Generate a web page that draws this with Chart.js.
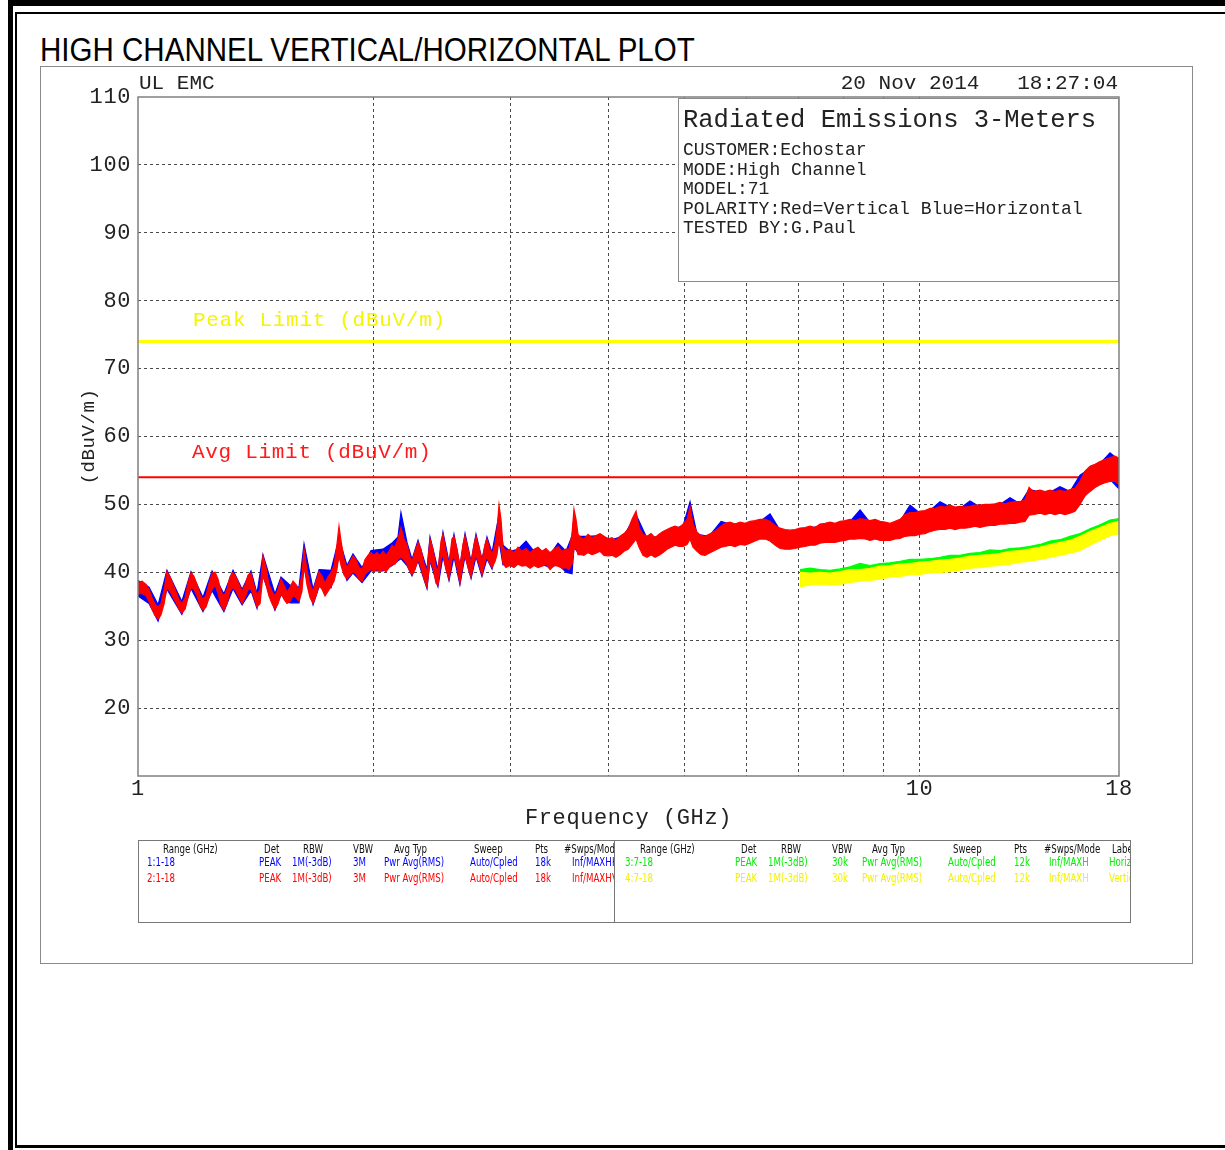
<!DOCTYPE html>
<html>
<head>
<meta charset="utf-8">
<script src="https://cdn.jsdelivr.net/npm/chart.js@4.4.1/dist/chart.umd.min.js"></script>
<style>
html,body{margin:0;padding:0;background:#fff;}
#page{position:relative;width:1225px;height:1150px;overflow:hidden;background:#fff;}
.abs{position:absolute;}
.blk{position:absolute;background:#000;}
.pl{position:absolute;font-family:"Liberation Mono","DejaVu Sans Mono",monospace;color:#222;white-space:pre;line-height:1;}
.tb{position:absolute;font-family:"Liberation Sans Narrow","DejaVu Sans Condensed",sans-serif;font-size:12px;line-height:1;white-space:pre;transform:scaleX(0.8);transform-origin:0 0;}
.clip{position:absolute;overflow:hidden;}
</style>
</head>
<body>
<div id="page">
  <!-- page border -->
  <div class="blk" style="left:8px;top:0;width:1217px;height:6px"></div>
  <div class="blk" style="left:8px;top:0;width:5px;height:1150px"></div>
  <div class="blk" style="left:15px;top:12px;width:1210px;height:2px"></div>
  <div class="blk" style="left:15px;top:12px;width:2px;height:1136px"></div>
  <div class="blk" style="left:15px;top:1145px;width:1210px;height:3px"></div>
  <!-- plot frame -->
  <div class="abs" style="left:40px;top:66px;width:1151px;height:896px;border:1px solid #8a8a8a;"></div>
  <div class="abs" style="left:40px;top:33px;font-family:'Liberation Sans',Arial,sans-serif;font-size:33px;line-height:1;color:#000;white-space:pre;transform:scaleX(0.895);transform-origin:0 0;">HIGH CHANNEL VERTICAL/HORIZONTAL PLOT</div>

  <canvas id="c" width="1225" height="1150" class="abs" style="left:0;top:0;width:1225px;height:1150px;"></canvas>

  <div class="pl" style="left:139px;top:73px;font-size:21px;">UL EMC</div>
  <div class="pl" style="right:107px;top:73px;font-size:21px;">20 Nov 2014   18:27:04</div>
  <div class="pl" style="left:193px;top:310px;font-size:21px;letter-spacing:0.7px;color:#f5f500;">Peak Limit (dBuV/m)</div>
  <div class="pl" style="left:192px;top:442px;font-size:21px;letter-spacing:0.7px;color:#ff1a1a;">Avg Limit (dBuV/m)</div>

  <!-- info box -->
  <div class="abs" style="left:678px;top:98px;width:441px;height:184px;box-sizing:border-box;border:1px solid #8a8a8a;background:#fff;"></div>
  <div class="pl" style="left:683px;top:107.5px;font-size:25.5px;">Radiated Emissions 3-Meters</div>
  <div class="pl" style="left:683px;top:141px;font-size:18px;">CUSTOMER:Echostar</div>
  <div class="pl" style="left:683px;top:161px;font-size:18px;">MODE:High Channel</div>
  <div class="pl" style="left:683px;top:180px;font-size:18px;">MODEL:71</div>
  <div class="pl" style="left:683px;top:200px;font-size:18px;">POLARITY:Red=Vertical Blue=Horizontal</div>
  <div class="pl" style="left:683px;top:219px;font-size:18px;">TESTED BY:G.Paul</div>

  <!-- settings table -->
  <div class="abs" style="left:138px;top:840px;width:993px;height:83px;box-sizing:border-box;border:1px solid #777;"></div>
  <div class="abs" style="left:614px;top:840px;width:1px;height:83px;background:#777;"></div>
  <div class="clip" id="tL" style="left:139px;top:841px;width:475px;height:81px;"></div>
  <div class="clip" id="tR" style="left:615px;top:841px;width:515px;height:81px;"></div>
</div>

<script>
// ---------------- data ----------------
const yTicks = [10, 20, 30, 40, 50, 60, 70, 80, 90, 100, 110];
const yTickLabels = ['', '20', '30', '40', '50', '60', '70', '80', '90', '100', '110'];
const xTicks = [1, 2, 3, 4, 5, 6, 7, 8, 9, 10, 18];
const xTickLabels = ['1', '', '', '', '', '', '', '', '', '10', '18'];

const limitFreq = [1, 18];
const peakLimit = [74, 74];
const avgLimit = [54, 54];

// Trace 2 (red, vertical, peak) envelope
const redFreq = [
  1.000,1.012,1.024,1.033,1.042,1.051,1.061,1.070,1.080,1.089,1.099,1.109,1.118,1.128,1.138,1.149,1.159,1.169,1.179,1.190,
  1.200,1.211,1.222,1.233,1.244,1.255,1.266,1.277,1.288,1.300,1.311,1.323,1.335,1.347,1.359,1.371,1.383,1.395,1.407,1.420,
  1.433,1.445,1.458,1.471,1.484,1.497,1.511,1.524,1.538,1.551,1.565,1.579,1.593,1.607,1.621,
  1.631,1.645,1.660,1.675,1.690,1.705,1.720,1.735,1.750,1.766,1.782,1.797,1.808,1.819,1.835,1.851,1.868,1.884,1.901,1.918,
  1.935,1.952,1.969,1.987,2.004,
  2.022,2.040,2.058,2.077,2.095,2.114,2.132,2.151,2.170,2.190,2.209,2.229,2.242,2.262,2.282,2.302,2.323,2.343,2.364,2.385,
  2.406,2.420,2.442,2.456,2.478,2.500,2.522,2.537,2.560,2.582,2.605,2.621,2.644,2.668,2.691,2.707,2.731,2.755,2.780,2.796,
  2.821,2.838,2.863,2.880,2.897,2.914,2.931,2.957,
  2.992,3.028,3.064,3.100,3.137,3.174,3.212,3.250,3.288,3.327,3.367,3.407,3.447,3.488,3.529,3.560,3.592,3.613,3.635,3.656,
  3.689,3.721,
  3.766,3.810,3.855,3.901,3.947,3.994,4.041,4.089,4.138,4.187,4.237,4.287,4.338,4.376,4.428,4.480,4.534,4.587,4.642,4.697,
  4.752,4.809,4.866,4.923,4.982,5.041,5.086,5.131,5.192,5.254,5.316,5.379,5.443,5.507,5.573,5.639,5.722,5.807,5.894,5.981,
  6.069,6.159,6.251,6.344,6.438,6.533,6.630,6.729,6.828,6.930,7.033,7.137,7.243,7.351,7.460,7.571,7.683,7.797,7.913,8.031,
  8.150,8.271,8.394,8.518,8.645,8.773,8.903,9.035,9.169,9.305,9.443,9.583,9.725,9.869,10.015,10.163,10.314,10.467,10.623,10.780,
  10.940,11.103,11.267,11.435,11.604,11.777,11.951,12.129,12.309,12.491,12.677,12.865,13.056,13.250,13.446,13.646,13.808,13.971,14.262,14.474,
  14.689,14.907,15.128,15.353,15.580,15.812,16.047,16.285,16.526,16.772,17.021,17.273,17.530,17.790,18.000
];
const redHi = [
  38.5,38.7,38.2,37.5,36.3,35.3,34.9,35.4,37.5,40.1,39.3,38.2,37.2,36.0,35.4,36.3,38.5,39.9,39.4,38.2,
  36.8,36.0,36.6,38.4,39.9,40.0,39.0,37.2,36.5,37.5,39.3,40.0,39.3,38.2,37.2,38.2,39.6,39.9,38.2,36.6,
  37.5,42.4,40.7,38.2,37.2,36.5,37.5,39.0,38.1,37.1,37.8,38.7,38.2,37.5,39.7,
  43.4,40.4,38.2,37.2,38.7,40.1,39.4,38.4,39.3,40.0,41.0,44.1,46.8,44.6,41.9,40.7,41.6,42.4,41.9,40.7,
  40.4,41.9,42.5,42.9,42.5,
  42.9,42.5,43.1,42.5,43.1,44.0,43.7,44.9,46.6,44.9,44.1,42.2,41.6,43.1,44.4,43.4,41.2,40.1,44.9,43.4,
  40.7,40.1,44.6,45.6,43.1,41.2,44.9,45.3,43.4,40.7,44.1,45.4,43.4,41.3,44.1,45.3,43.7,41.6,44.1,44.9,
  43.4,42.6,44.1,46.3,49.9,47.8,43.7,43.1,
  43.4,42.9,43.7,43.1,43.5,42.9,43.4,43.7,43.1,43.5,42.9,43.4,43.8,43.1,43.4,43.4,45.6,49.3,47.8,45.6,
  45.1,44.9,
  45.6,45.1,45.4,45.7,45.3,44.9,45.1,44.7,45.3,45.7,46.3,47.8,49.0,46.6,45.6,45.3,45.7,45.1,45.6,46.0,
  46.3,46.6,46.8,46.6,47.1,47.8,49.7,47.1,45.9,45.4,45.3,45.6,45.9,46.3,46.8,47.2,47.4,47.1,47.4,47.2,
  47.5,47.6,47.8,47.8,47.5,46.9,46.5,46.3,46.2,46.3,46.5,46.6,46.8,46.6,47.1,47.2,47.4,47.2,47.5,47.6,
  47.8,47.6,47.9,47.8,47.6,47.8,47.5,47.4,47.2,47.5,47.8,48.5,48.8,48.8,49.0,49.1,49.4,49.4,49.7,49.6,
  49.9,49.6,49.7,49.6,49.7,49.9,49.9,50.0,50.0,50.1,50.3,50.1,50.3,50.4,50.4,50.7,52.5,51.9,52.1,51.9,
  52.1,51.9,52.1,51.9,52.2,52.4,53.4,54.9,55.6,55.9,56.3,56.6,56.9,57.1,56.8
];
const redLo = [
  36.8,36.9,36.5,35.7,34.6,33.7,33.1,33.7,35.4,37.8,37.2,36.3,35.6,34.6,34.0,34.6,36.3,37.8,37.5,36.5,
  35.1,34.4,34.9,36.3,37.5,38.1,36.9,35.1,34.4,35.4,37.2,37.8,37.2,36.3,35.4,36.3,37.5,37.5,36.3,34.9,
  35.4,39.7,38.2,36.5,35.4,34.6,35.4,36.9,36.0,35.4,35.7,36.6,36.3,35.7,37.2,
  41.0,38.2,36.3,35.4,36.6,38.1,37.5,36.5,37.2,37.9,38.7,40.4,42.6,41.0,39.6,39.0,39.6,40.1,39.7,39.0,
  38.7,39.7,40.1,40.4,40.1,
  40.4,40.1,40.4,40.1,40.7,41.2,41.2,41.9,42.2,41.9,41.2,40.1,39.7,40.4,41.9,40.7,39.0,37.8,41.9,40.7,
  38.4,38.1,41.9,42.6,40.4,39.0,41.9,42.5,40.7,38.4,41.2,42.6,40.7,39.3,41.6,42.5,41.2,39.6,41.6,42.2,
  41.2,40.7,41.6,42.6,44.9,43.7,41.3,40.7,
  41.0,40.7,41.2,40.9,41.0,40.6,41.0,40.7,40.9,41.2,40.4,41.0,40.9,40.6,40.7,40.4,41.2,43.4,43.7,42.6,
  42.6,42.5,
  42.9,42.6,42.8,43.1,42.5,42.4,42.5,42.2,42.6,43.1,43.4,44.1,44.9,43.7,42.5,42.2,42.6,42.2,42.5,42.9,
  43.4,43.7,44.0,43.8,43.8,44.1,44.9,43.7,43.1,42.6,42.5,42.8,43.1,43.4,43.7,43.8,44.0,43.8,44.1,44.0,
  44.3,44.6,44.9,44.9,44.6,44.0,43.5,43.4,43.4,43.5,43.7,43.8,44.0,44.0,44.3,44.4,44.4,44.4,44.6,44.7,
  44.9,44.9,45.0,44.9,44.7,44.9,44.7,44.7,44.7,44.9,45.0,45.3,45.4,45.4,45.6,45.7,46.0,46.2,46.3,46.3,
  46.5,46.3,46.5,46.5,46.6,46.8,46.6,46.8,46.9,46.9,47.1,47.1,47.2,47.2,47.4,47.5,48.4,48.5,48.7,48.5,
  48.7,48.5,48.7,48.5,48.7,49.0,50.0,51.3,51.9,52.5,52.9,53.2,53.4,53.4,52.9
];

// Trace 1 (blue, horizontal, peak) envelope
const blueFreq = [
  1.000,1.033,1.061,1.089,1.138,1.169,1.211,1.244,1.288,1.323,1.359,1.395,1.420,1.445,1.497,1.524,1.565,1.607,1.631,1.675,
  1.705,1.766,1.808,1.851,1.884,1.935,1.987,2.058,2.114,2.151,2.170,2.209,2.242,2.282,2.343,2.364,2.420,2.456,2.500,2.537,
  2.582,2.621,2.668,2.707,2.755,2.796,2.838,2.897,2.931,2.992,3.064,3.137,3.212,3.288,3.367,3.447,3.529,3.592,3.613,3.656,
  3.766,3.901,4.041,4.187,4.338,4.480,4.642,4.809,4.982,5.086,5.192,5.379,5.573,5.722,5.894,6.069,6.251,6.438,6.630,6.828,
  7.033,7.243,7.460,7.683,7.913,8.150,8.394,8.645,8.903,9.169,9.443,9.725,10.015,10.314,10.623,10.940,11.267,11.604,11.951,12.309,
  12.677,13.056,13.446,13.808,14.262,14.689,15.128,15.580,16.047,16.526,17.021,17.530,18.000
];
const blueHi = [
  38.8,37.8,35.2,40.3,35.7,40.1,36.3,40.2,36.8,40.3,37.5,40.2,36.9,42.6,36.8,39.3,38.1,37.8,44.2,37.5,
  40.4,40.3,45.0,41.0,42.7,40.7,43.2,43.4,44.3,45.2,48.8,44.4,41.9,44.7,40.4,45.2,40.4,45.9,41.5,45.6,
  41.0,45.7,41.6,45.6,41.9,45.2,42.9,48.5,44.0,43.1,43.4,44.6,43.1,42.8,42.6,44.3,43.1,45.3,48.0,45.3,
  45.3,45.4,44.8,45.4,48.5,45.0,45.3,46.3,46.8,50.4,45.6,45.3,47.5,47.1,47.1,47.2,47.5,48.6,46.2,45.9,
  46.2,46.5,46.8,47.1,47.2,47.5,49.2,47.3,47.2,46.9,47.5,49.9,48.7,49.1,50.4,49.6,49.4,50.5,49.6,49.7,
  50.0,51.0,50.1,52.2,51.8,51.8,52.6,51.9,54.3,55.3,56.0,57.6,56.5
];
const blueLo = [
  36.5,35.4,32.8,37.5,33.8,37.6,34.2,37.3,34.2,37.6,35.2,37.3,34.7,39.5,34.4,36.7,35.5,35.5,40.7,35.2,
  37.9,37.7,42.3,38.8,39.9,38.5,40.2,40.2,41.0,41.7,42.0,41.0,39.5,41.7,37.6,41.7,37.9,42.4,38.8,42.3,
  38.2,42.4,39.1,42.3,39.4,42.0,40.5,44.7,41.1,41.3,41.5,41.3,41.3,41.2,40.7,41.2,40.0,39.8,43.7,42.9,
  43.2,43.4,42.8,43.4,45.2,42.5,42.8,44.0,44.1,45.2,43.4,43.1,44.0,44.3,44.4,44.6,45.2,44.9,43.8,43.7,
  44.0,44.3,44.6,44.7,44.9,45.2,45.3,45.0,45.0,45.0,45.3,45.7,45.9,46.3,46.6,46.8,46.8,46.9,46.9,47.2,
  47.4,47.5,47.7,48.7,49.0,49.0,49.0,49.0,50.3,52.2,53.2,53.7,52.3
];

// Traces 3 (green, horizontal) and 4 (yellow, vertical), 7-18 GHz
const avgFreq = [
  7.033,7.243,7.460,7.683,7.913,8.150,8.394,8.645,8.903,9.169,9.443,9.725,10.015,10.314,10.623,10.940,11.267,11.604,11.951,12.309,
  12.677,13.056,13.446,13.808,14.262,14.689,15.128,15.580,16.047,16.526,17.021,17.530,18.000
];
const greenHi = [
  40.4,40.6,40.4,40.3,40.5,40.8,41.3,41.0,41.3,41.4,41.6,41.9,41.9,42.0,42.2,42.5,42.5,42.8,42.9,43.3,
  43.2,43.5,43.6,43.8,44.1,44.6,44.8,45.3,45.7,46.4,47.0,47.7,47.9
];
const greenLo = [
  38.2,38.4,38.5,38.4,38.5,38.8,39.0,39.1,39.3,39.6,39.7,39.9,40.0,40.2,40.3,40.4,40.6,40.9,41.0,41.2,
  41.3,41.5,41.8,41.9,42.2,42.5,42.8,43.1,43.5,44.3,45.0,45.7,46.0
];
const yellowHi = [
  40.0,39.9,40.0,39.9,40.1,40.4,40.4,40.6,40.9,41.0,41.2,41.3,41.5,41.6,41.8,41.9,42.1,42.4,42.5,42.6,
  42.8,43.1,43.2,43.4,43.7,44.1,44.4,44.7,45.3,46.0,46.6,47.2,47.5
];
const yellowLo = [
  37.9,38.1,38.2,38.1,38.2,38.5,38.7,38.8,39.0,39.3,39.4,39.6,39.7,39.9,40.0,40.1,40.3,40.6,40.7,40.9,
  41.0,41.2,41.5,41.6,41.9,42.2,42.5,42.8,43.2,44.0,44.7,45.4,45.7
];

// settings table text
const tableHead = ['Range (GHz)', 'Det', 'RBW', 'VBW', 'Avg Typ', 'Sweep', 'Pts', '#Swps/Mode', 'Label'];
const tableRows = [
  ['1:1-18', 'PEAK', '1M(-3dB)', '3M',  'Pwr Avg(RMS)', 'Auto/Cpled', '18k', 'Inf/MAXH', 'Horizontal'],
  ['2:1-18', 'PEAK', '1M(-3dB)', '3M',  'Pwr Avg(RMS)', 'Auto/Cpled', '18k', 'Inf/MAXH', 'Vertical'],
  ['3:7-18', 'PEAK', '1M(-3dB)', '30k', 'Pwr Avg(RMS)', 'Auto/Cpled', '12k', 'Inf/MAXH', 'Horizontal'],
  ['4:7-18', 'PEAK', '1M(-3dB)', '30k', 'Pwr Avg(RMS)', 'Auto/Cpled', '12k', 'Inf/MAXH', 'Vertical']
];
const rowColors = ['#0000ff', '#ff0000', '#00ee00', '#f2f200'];

// ---------------- table layout ----------------
const headX = [24, 125, 164, 214, 255, 335, 396, 425, 597];
const rowX  = [8, 120, 153, 214, 245, 331, 396, 433, 473];
const rowXR = [10, 120, 153, 217, 247, 333, 399, 434, 494];
const headXR = [25, 126, 166, 217, 257, 338, 399, 429, 497];
function addText(parent, txt, x, y, color) {
  const d = document.createElement('div');
  d.className = 'tb';
  d.style.left = x + 'px';
  d.style.top = y + 'px';
  d.style.color = color;
  d.textContent = txt;
  parent.appendChild(d);
}
const tL = document.getElementById('tL'), tR = document.getElementById('tR');
tableHead.forEach((h, i) => { addText(tL, h, headX[i], 2, '#111'); addText(tR, h, headXR[i], 2, '#111'); });
[0, 1].forEach(r => tableRows[r].forEach((t, i) => addText(tL, t, rowX[i], 15 + r * 16, rowColors[r])));
[2, 3].forEach(r => tableRows[r].forEach((t, i) => addText(tR, t, rowXR[i], 15 + (r - 2) * 16, rowColors[r])));

// ---------------- chart ----------------
const MONO = '"Liberation Mono","DejaVu Sans Mono",monospace';
function pts(f, v) { return f.map((x, i) => ({ x: x, y: v[i] })); }
function band(name, f, hi, lo, color, order) {
  return [
    { label: name + ' hi', data: pts(f, hi), borderColor: color, backgroundColor: color, borderWidth: 1.2, pointRadius: 0, fill: false, order: order },
    { label: name + ' lo', data: pts(f, lo), borderColor: color, backgroundColor: color, borderWidth: 1.2, pointRadius: 0, fill: '-1', order: order }
  ];
}
const datasets = [
  { label: 'Peak Limit', data: pts(limitFreq, peakLimit), borderColor: '#ffff00', borderWidth: 3, pointRadius: 0, fill: false, order: 20 },
  { label: 'Avg Limit', data: pts(limitFreq, avgLimit), borderColor: '#ff0000', borderWidth: 2, pointRadius: 0, fill: false, order: 20 },
  ...band('3', avgFreq, greenHi, greenLo, '#00ff00', 9),
  ...band('4', avgFreq, yellowHi, yellowLo, '#ffff00', 8),
  ...band('1', blueFreq, blueHi, blueLo, '#0000ff', 5),
  ...band('2', redFreq, redHi, redLo, '#ff0000', 3)
];

const framePlugin = {
  id: 'frame',
  beforeDraw(chart) { chart.ctx.letterSpacing = '0.6px'; },
  afterDatasetsDraw(chart) {
    const a = chart.chartArea, ctx = chart.ctx;
    ctx.save();
    ctx.strokeStyle = '#808080';
    ctx.lineWidth = 1.5;
    ctx.strokeRect(a.left, a.top, a.right - a.left, a.bottom - a.top);
    ctx.restore();
  }
};
const gridColor = (n) => (c) => (c.index === 0 || c.index === n - 1) ? 'rgba(0,0,0,0)' : '#4a4a4a';

new Chart(document.getElementById('c'), {
  type: 'line',
  data: { datasets: datasets },
  plugins: [framePlugin],
  options: {
    responsive: false,
    animation: false,
    events: [],
    layout: { padding: { left: 78, right: 106, top: 97, bottom: 318 } },
    plugins: { legend: { display: false }, tooltip: { enabled: false } },
    elements: { line: { tension: 0 } },
    scales: {
      x: {
        type: 'logarithmic', min: 1, max: 18,
        afterBuildTicks: (s) => { s.ticks = xTicks.map(v => ({ value: v })); },
        afterFit: (s) => { s.height = 56; },
        ticks: { autoSkip: false, maxRotation: 0, padding: 0, color: '#222', font: { family: MONO, size: 22 },
                 callback: (v, i) => xTickLabels[i] },
        grid: { color: gridColor(xTicks.length), lineWidth: 1, drawTicks: false },
        border: { display: false, dash: [3, 3] },
        title: { display: true, text: 'Frequency (GHz)', color: '#222', font: { family: MONO, size: 22 }, padding: { top: 0, bottom: 1 } }
      },
      y: {
        type: 'linear', min: 10, max: 110,
        afterBuildTicks: (s) => { s.ticks = yTicks.map(v => ({ value: v })); },
        afterFit: (s) => { s.width = 60; },
        ticks: { padding: 7, color: '#222', font: { family: MONO, size: 22 }, callback: (v, i) => yTickLabels[i] },
        grid: { color: gridColor(yTicks.length), lineWidth: 1, drawTicks: false },
        border: { display: false, dash: [3, 3] },
        title: { display: true, text: '(dBuV/m)', color: '#222', font: { family: MONO, size: 19 }, padding: { top: 0, bottom: 0 } }
      }
    }
  }
});
</script>
</body>
</html>
